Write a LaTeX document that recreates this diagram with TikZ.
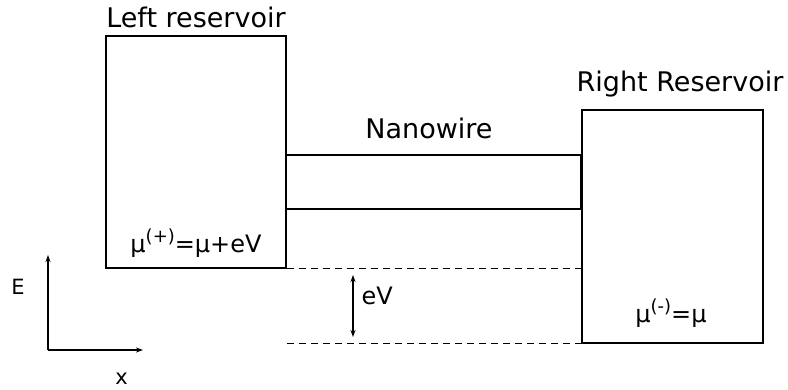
\documentclass[tikz,border=0pt]{standalone}
\usepackage{fontspec}
\setmainfont{DejaVu Sans}
\usepackage{tikz}
\usetikzlibrary{arrows.meta,calc}

\newcommand{\chemsup}[1]{\raisebox{0.8ex}{\fontsize{18}{21}\selectfont #1}}

\begin{document}
\begin{tikzpicture}[x=1pt,y=1pt,
    font=\fontsize{27}{32}\selectfont,
    >={Stealth[length=7pt,width=5pt]},
    box/.style={draw,line width=1.3pt,inner sep=0pt},
    level/.style={dashed,dash pattern=on 7pt off 5pt,line width=0.8pt},
    potential/.style={font=\fontsize{24}{28}\selectfont},
    axislabel/.style={anchor=base,font=\fontsize{21}{24}\selectfont}]
    \useasboundingbox (0,0) rectangle (788,389);

    % Reservoirs and wire
    \node[box,minimum width=180,minimum height=232] (left) at (196,237) {};
    \node[box,minimum width=181,minimum height=233] (right) at (672.5,162.5) {};
    \node[box,minimum width=295,minimum height=54] (wire) at (433.5,207) {};

    % Labels
    \node (lefttxt) at (196,372) {Left reservoir};
    \node (righttxt) at (680,305) {Right Reservoir};
    \node (wiretxt) at (429,261) {Nanowire};
    \node[potential] (muplus) at (196,146) {μ\chemsup{(+)}=μ+eV};
    \node[potential] (muminus) at (671,76) {μ\chemsup{(-)}=μ};

    % Chemical potential levels
    \draw[level] (left.south east) -- (left.south east -| right.west);
    \draw[level] (left.south east |- right.south west) -- (right.south west);

    % Bias arrow
    \coordinate (evtop) at (353,114);
    \coordinate (evbot) at (353,52);
    \draw[<->,line width=1.2pt] (evtop) -- (evbot);
    \node[right,potential] (evtxt) at (358,93) {eV};

    % Axes
    \coordinate (origin) at (48,39);
    \coordinate (etop) at (48,134);
    \coordinate (xend) at (143,39);
    \draw[->,line width=1.2pt] (origin) -- (etop);
    \draw[->,line width=1.2pt] (origin) -- (xend);
    \node[axislabel] (etxt) at (18,95) {E};
    \node[axislabel] (xtxt) at (121.5,5) {x};
\end{tikzpicture}
\end{document}
